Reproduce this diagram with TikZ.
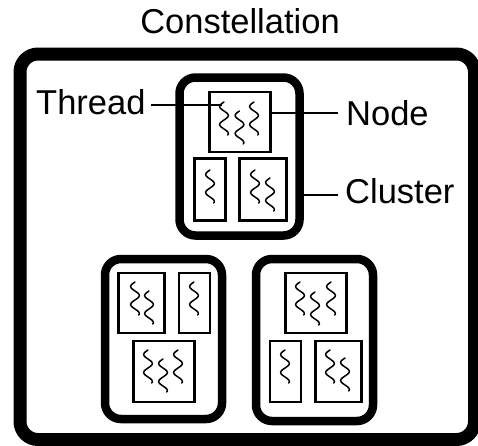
\documentclass[tikz,border=0pt]{standalone}
\usepackage{fontspec}
\setmainfont{Liberation Sans}
\begin{document}
\begin{tikzpicture}[x=1pt,y=-1pt,
  lbl/.style={font=\fontsize{34.5}{40}\selectfont, inner sep=0pt},
  outerbox/.style={draw, line width=13pt, rounded corners=18pt, minimum width=454.5pt, minimum height=385.5pt, inner sep=0pt},
  clusterbox/.style={draw, line width=8.5pt, rounded corners=16pt, inner sep=0pt},
  nodebox/.style={draw, line width=2.8pt, inner sep=0pt},
  leader/.style={line width=1.3pt},
  wig/.pic={\draw[line width=1.5pt, line cap=round] plot[domain=0:33, samples=60, smooth] ({-4.3*sin(\x*20)},\x);}
]
\useasboundingbox (0,0) rectangle (478,445);

% outer constellation
\node[outerbox] (const) at (247.25,246.75) {};
\node[lbl, anchor=base] (constlbl) at (240,33) {Constellation};

% top cluster
\node[clusterbox, minimum width=120pt, minimum height=158pt] (cA) at (239.5,156.5) {};
\node[nodebox, minimum width=61pt, minimum height=60pt] (nA) at (240,122) {};
\node[nodebox, minimum width=31pt, minimum height=62pt] (nA2) at (210,189.5) {};
\node[nodebox, minimum width=47pt, minimum height=62pt] (nA3) at (263,189.5) {};
\pic at (224,102) {wig};
\pic at (239.5,111) {wig};
\pic at (254,102) {wig};
\pic at (210,170) {wig};
\pic at (255,170) {wig};
\pic at (270,178) {wig};

% left cluster
\node[clusterbox, minimum width=117pt, minimum height=160pt] (cB) at (163.5,339) {};
\node[nodebox, minimum width=46pt, minimum height=60pt] (nB1) at (141.5,303) {};
\node[nodebox, minimum width=31pt, minimum height=60pt] (nB2) at (194.5,303) {};
\node[nodebox, minimum width=61pt, minimum height=61pt] (nB3) at (164,371.5) {};
\pic at (135,282) {wig};
\pic at (149,291) {wig};
\pic at (194,282) {wig};
\pic at (148,350) {wig};
\pic at (163,359) {wig};
\pic at (178,350) {wig};

% right cluster
\node[clusterbox, minimum width=117pt, minimum height=162pt] (cC) at (314.5,340) {};
\node[nodebox, minimum width=61pt, minimum height=60pt] (nC1) at (316,303) {};
\node[nodebox, minimum width=31pt, minimum height=61pt] (nC2) at (285.5,371.5) {};
\node[nodebox, minimum width=46pt, minimum height=61pt] (nC3) at (338.5,371.5) {};
\pic at (300,282) {wig};
\pic at (315,292) {wig};
\pic at (331,282) {wig};
\pic at (285,350) {wig};
\pic at (330,350) {wig};
\pic at (345,358) {wig};

% labels
\node[lbl, anchor=base west] (thr) at (36,114) {Thread};
\node[lbl, anchor=base west] (nodelbl) at (346,125) {Node};
\node[lbl, anchor=base west] (cluslbl) at (345,203) {Cluster};

% leaders
\coordinate (thrEnd) at (222,105);
\coordinate (thrStart) at (151,105);
\coordinate (nodeEnd) at (338,113);
\coordinate (clusEnd) at (338,195);
\draw[leader] (thrStart) -- (thrEnd);
\draw[leader] (nA.east |- nodeEnd) -- (nodeEnd);
\draw[leader] (cA.east |- clusEnd) -- (clusEnd);
\end{tikzpicture}
\end{document}
